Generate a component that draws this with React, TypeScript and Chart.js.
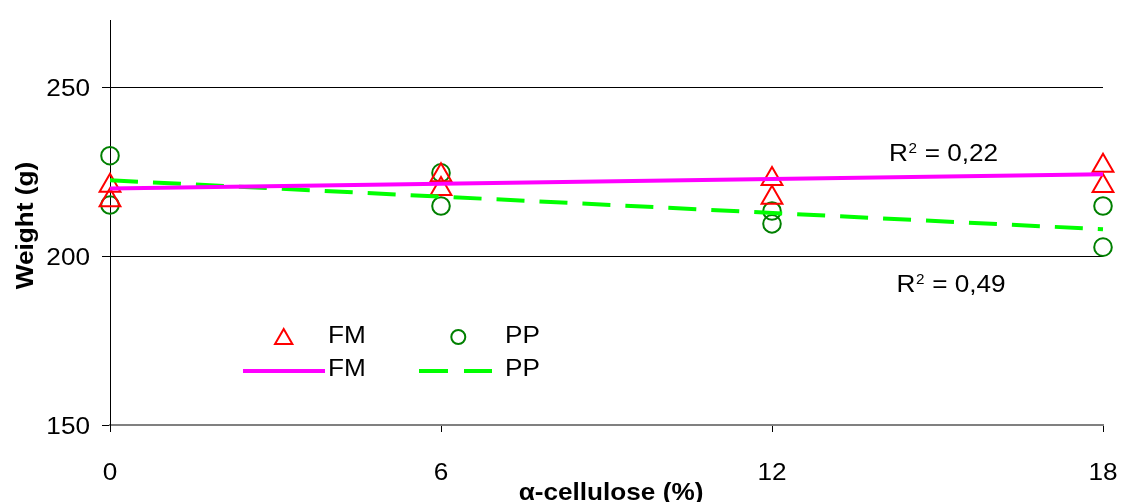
import { useEffect, useRef } from 'react';
import { Chart, registerables } from 'chart.js';

Chart.register(...registerables);

// α-cellulose content (%) and weights (g) of the two replicates per level
const alphaCellulose = [0, 6, 12, 18];
const fmRep1 = [220.9, 224.0, 222.9, 226.8];
const fmRep2 = [216.6, 219.9, 217.3, 220.8];
const ppRep1 = [229.8, 224.7, 213.4, 214.9];
const ppRep2 = [215.2, 214.9, 209.6, 202.7];

// linear trend lines (end points)
const trendX = [0, 18];
const fmTrend = [220.1, 224.3];
const ppTrend = [222.5, 208.0];

const xTicks = [0, 6, 12, 18];
const yTicks = [150, 200, 250];
const r2Values = ['0,22', '0,49'];

const FONT = '"Liberation Sans", Arial, sans-serif';
const SX = 1.09; // slightly widened lettering

function drawText(
  ctx: CanvasRenderingContext2D,
  s: string,
  x: number,
  y: number,
  font: string,
  align: CanvasTextAlign = 'left',
  rot = 0
) {
  ctx.save();
  ctx.translate(x, y);
  if (rot) ctx.rotate(rot);
  ctx.scale(SX, 1);
  ctx.font = font;
  ctx.textAlign = align;
  ctx.textBaseline = 'alphabetic';
  ctx.fillStyle = '#000';
  ctx.fillText(s, 0, 0);
  ctx.restore();
}

function drawR2(ctx: CanvasRenderingContext2D, x: number, y: number, value: string) {
  ctx.save();
  ctx.font = `24px ${FONT}`;
  const wR = ctx.measureText('R').width * SX;
  ctx.font = `14px ${FONT}`;
  const w2 = ctx.measureText('2').width * SX;
  ctx.restore();
  drawText(ctx, 'R', x, y, `24px ${FONT}`);
  drawText(ctx, '2', x + wR + 0.5, y - 8, `14px ${FONT}`);
  drawText(ctx, ' = ' + value, x + wR + w2 + 1, y, `24px ${FONT}`);
}

function triangle(ctx: CanvasRenderingContext2D, cx: number, cy: number, r: number) {
  const s = Math.sin((2 * Math.PI) / 3) * r;
  ctx.beginPath();
  ctx.moveTo(cx, cy - r);
  ctx.lineTo(cx + s, cy + r / 2);
  ctx.lineTo(cx - s, cy + r / 2);
  ctx.closePath();
  ctx.stroke();
}

const decorations = {
  id: 'decorations',
  afterDraw(chart: Chart) {
    const ctx = chart.ctx;
    const xs = chart.scales.x;
    const ys = chart.scales.y;
    const tickFont = `24px ${FONT}`;
    const titleFont = `bold 24px ${FONT}`;

    // tick labels
    yTicks.forEach((v) => {
      drawText(ctx, String(v), 90, ys.getPixelForValue(v) + 8.6, tickFont, 'right');
    });
    xTicks.forEach((v) => {
      drawText(ctx, String(v), xs.getPixelForValue(v), 480, tickFont, 'center');
    });

    // axis titles
    drawText(ctx, 'Weight (g)', 32.5, 225.5, titleFont, 'center', -Math.PI / 2);
    drawText(ctx, 'α-cellulose (%)', 611, 500, titleFont, 'center');

    // R² of the trend lines
    drawR2(ctx, 889, 160.7, r2Values[0]);
    drawR2(ctx, 896.5, 292.3, r2Values[1]);

    // legend
    ctx.save();
    ctx.lineWidth = 2;
    ctx.strokeStyle = '#FF0000';
    triangle(ctx, 283.7, 339, 10);
    ctx.strokeStyle = '#008000';
    ctx.beginPath();
    ctx.arc(458.3, 337, 7, 0, Math.PI * 2);
    ctx.stroke();
    ctx.lineWidth = 4;
    ctx.strokeStyle = '#FF00FF';
    ctx.beginPath();
    ctx.moveTo(243, 371);
    ctx.lineTo(325, 371);
    ctx.stroke();
    ctx.strokeStyle = '#00FF00';
    ctx.beginPath();
    ctx.moveTo(419, 371);
    ctx.lineTo(448, 371);
    ctx.moveTo(464, 371);
    ctx.lineTo(492, 371);
    ctx.stroke();
    ctx.restore();
    drawText(ctx, 'FM', 328, 342.5, tickFont);
    drawText(ctx, 'PP', 505, 342.5, tickFont);
    drawText(ctx, 'FM', 328, 376, tickFont);
    drawText(ctx, 'PP', 505, 376, tickFont);
  },
};

export default function App() {
  const canvasRef = useRef<HTMLCanvasElement | null>(null);

  useEffect(() => {
    document.body.style.margin = '0';
    const canvas = canvasRef.current;
    if (!canvas) return;

    const fmPoints = alphaCellulose.flatMap((x, i) => [
      { x, y: fmRep1[i] },
      { x, y: fmRep2[i] },
    ]);
    const ppPoints = alphaCellulose.flatMap((x, i) => [
      { x, y: ppRep1[i] },
      { x, y: ppRep2[i] },
    ]);

    const chart = new Chart(canvas, {
      type: 'scatter',
      data: {
        datasets: [
          {
            label: 'FM trend',
            data: trendX.map((x, i) => ({ x, y: fmTrend[i] })),
            showLine: true,
            borderColor: '#FF00FF',
            borderWidth: 4,
            pointRadius: 0,
            clip: false,
          },
          {
            label: 'PP trend',
            data: trendX.map((x, i) => ({ x, y: ppTrend[i] })),
            showLine: true,
            borderColor: '#00FF00',
            borderWidth: 4,
            borderDash: [28, 15],
            pointRadius: 0,
            clip: false,
          },
          {
            label: 'FM',
            data: fmPoints,
            pointStyle: 'triangle',
            pointRadius: 12,
            pointBorderWidth: 2,
            borderColor: '#FF0000',
            backgroundColor: 'rgba(0,0,0,0)',
            clip: false,
          },
          {
            label: 'PP',
            data: ppPoints,
            pointStyle: 'circle',
            pointRadius: 8.8,
            pointBorderWidth: 2,
            borderColor: '#008000',
            backgroundColor: 'rgba(0,0,0,0)',
            clip: false,
          },
        ],
      },
      options: {
        responsive: false,
        animation: false,
        events: [],
        layout: { padding: { top: 20, right: 18, left: 0, bottom: 0 } },
        plugins: { legend: { display: false }, tooltip: { enabled: false } },
        scales: {
          x: {
            type: 'linear',
            min: 0,
            max: 18,
            afterBuildTicks: (scale: any) => {
              scale.ticks = xTicks.map((value) => ({ value }));
            },
            afterFit: (scale: any) => {
              scale.height = 77;
            },
            ticks: { display: false },
            grid: {
              drawOnChartArea: false,
              drawTicks: true,
              tickLength: 7,
              tickColor: '#000',
              tickWidth: 1,
            },
            border: { color: '#808080', width: 2 },
          },
          y: {
            type: 'linear',
            min: 150,
            max: 270,
            afterBuildTicks: (scale: any) => {
              scale.ticks = yTicks.map((value) => ({ value }));
            },
            afterFit: (scale: any) => {
              scale.width = 110;
            },
            ticks: { display: false },
            grid: {
              color: (c: any) => (c.tick && c.tick.value === 150 ? 'rgba(0,0,0,0)' : '#000'),
              lineWidth: 1,
              drawTicks: true,
              tickLength: 8,
              tickColor: '#000',
              tickWidth: 1,
            },
            border: { color: '#000', width: 1 },
          },
        },
      },
      plugins: [decorations],
    });

    return () => chart.destroy();
  }, []);

  return (
    <div style={{ width: 1121, height: 502, background: '#fff', overflow: 'hidden' }}>
      <canvas ref={canvasRef} width={1121} height={502} style={{ display: 'block' }} />
    </div>
  );
}
